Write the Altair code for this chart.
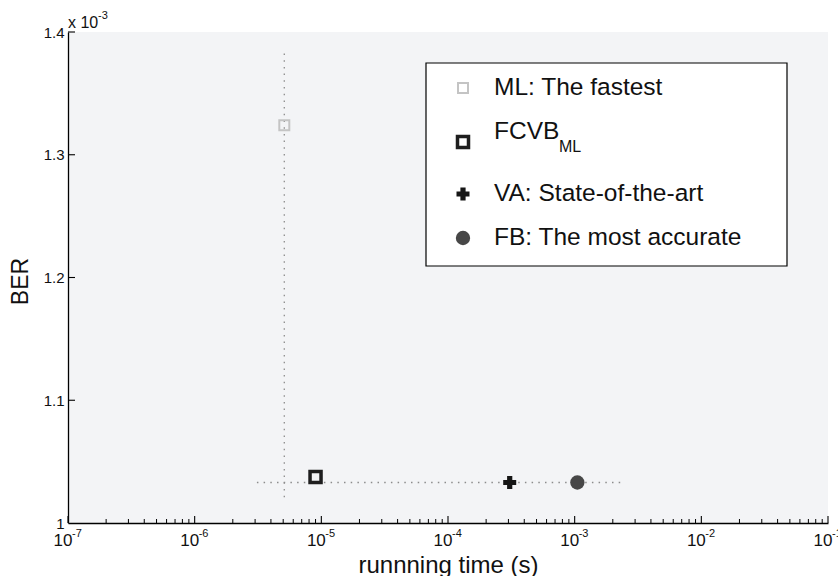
import altair as alt
import pandas as pd

# Running time (s) and bit error rate (in units of 1e-3) of each detector
methods = ["ML", "FCVB", "VA", "FB"]
run_time = [5.1e-6, 9.0e-6, 3.07e-4, 1.05e-3]
ber = [1.324, 1.0375, 1.033, 1.033]

legend_text = ["ML: The fastest", "FCVB", "VA: State-of-the-art", "FB: The most accurate"]
legend_subscript = ["", "ML", "", ""]

# Dotted spread guides
vguide_time = [5.1e-6, 5.1e-6]
vguide_ber = [1.021, 1.383]
hguide_time = [3.1e-6, 2.29e-3]
hguide_ber = [1.033, 1.033]

# Axis ticks
decade_values = [1e-7, 1e-6, 1e-5, 1e-4, 1e-3, 1e-2, 1e-1]
decade_exponents = ["-7", "-6", "-5", "-4", "-3", "-2", "-1"]
minor_multipliers = [2, 3, 4, 5, 6, 7, 8, 9]
ber_ticks = [1.0, 1.1, 1.2, 1.3, 1.4]

W, H = 760, 491
FONT = "Liberation Sans"

points = pd.DataFrame({"method": methods, "t": run_time, "ber": ber})
vguide = pd.DataFrame({"t": vguide_time, "ber": vguide_ber})
hguide = pd.DataFrame({"t": hguide_time, "ber": hguide_ber})
decades = pd.DataFrame({"t": decade_values, "exp": decade_exponents})
minors = pd.DataFrame({"t": [m * d for d in decade_values[:-1] for m in minor_multipliers]})
yticks = pd.DataFrame({"ber": ber_ticks[1:]})

x_axis = alt.Axis(
    labels=False, ticks=False, tickSize=0, grid=False,
    domainColor="black", domainWidth=1.3,
    title="runnning time (s)", titleFont=FONT, titleFontSize=24,
    titleFontWeight="normal", titleColor="#111",
    titleY=42, titleBaseline="middle",
)
y_axis = alt.Axis(
    values=ber_ticks, format="~g", ticks=False, tickSize=0, grid=False,
    labelPadding=4, labelFontSize=15, labelFont=FONT, labelColor="#111",
    domainColor="black", domainWidth=1.3,
    title="BER", titleFont=FONT, titleFontSize=23, titleFontWeight="normal",
    titleColor="#111", titleX=-48, titleY=249, titleAngle=270,
    titleBaseline="middle", titleAlign="center",
)
X = alt.X("t:Q", scale=alt.Scale(type="log", domain=[1e-7, 1e-1], nice=False), axis=x_axis)
Y = alt.Y("ber:Q", scale=alt.Scale(domain=[1.0, 1.4], zero=False, nice=False), axis=y_axis)

styles = {
    "ML": dict(shape="square", size=100, filled=False, color="#c4c4c4", strokeWidth=2),
    "FCVB": dict(shape="square", size=121, filled=False, color="#1e1e1e", strokeWidth=3.5),
    "VA": dict(shape="cross", size=169, filled=True, color="#151515"),
    "FB": dict(shape="circle", size=205, filled=True, color="#474747"),
}

layers = []

# dotted guides
for g in (vguide, hguide):
    layers.append(
        alt.Chart(g).mark_line(color="#8c8c8c", strokeWidth=1.3, strokeDash=[1.5, 5.2])
        .encode(x=X, y=Y)
    )

# inward ticks
layers.append(alt.Chart(decades).mark_rule(color="black", strokeWidth=1.1)
              .encode(x=X, y=alt.value(H), y2=alt.value(H - 7)))
layers.append(alt.Chart(minors).mark_rule(color="black", strokeWidth=1.0)
              .encode(x=X, y=alt.value(H), y2=alt.value(H - 4)))
layers.append(alt.Chart(yticks).mark_rule(color="black", strokeWidth=1.1)
              .encode(y=Y, x=alt.value(0), x2=alt.value(7)))

# decade labels 10^n
layers.append(alt.Chart(decades).mark_text(font=FONT, fontSize=17, color="#111", dx=-5,
                                           align="center", baseline="middle")
              .encode(x=X, y=alt.value(H + 18), text=alt.value("10")))
layers.append(alt.Chart(decades).mark_text(font=FONT, fontSize=11, color="#111", dx=4,
                                           align="left", baseline="middle")
              .encode(x=X, y=alt.value(H + 11), text="exp:N"))

# scale factor on the BER axis
layers.append(alt.Chart(points).transform_filter(alt.datum.method == "ML")
              .mark_text(font=FONT, fontSize=16, color="#111", align="left", baseline="middle")
              .encode(x=alt.value(0), y=alt.value(-9), text=alt.value("x 10")))
layers.append(alt.Chart(points).transform_filter(alt.datum.method == "ML")
              .mark_text(font=FONT, fontSize=11, color="#111", align="left", baseline="middle")
              .encode(x=alt.value(30), y=alt.value(-16), text=alt.value("-3")))

# detector markers
for m in methods:
    layers.append(
        alt.Chart(points).transform_filter(alt.datum.method == m)
        .mark_point(opacity=1, **styles[m]).encode(x=X, y=Y)
    )

# legend box
layers.append(alt.Chart(points).transform_filter(alt.datum.method == "ML")
              .mark_rect(fill="white", stroke="black", strokeWidth=1.2)
              .encode(x=alt.value(358), x2=alt.value(719), y=alt.value(31), y2=alt.value(234)))

symbol_y = [56, 110, 162, 206]
text_y = [56, 100, 162, 206]
for i, m in enumerate(methods):
    one = alt.Chart(points).transform_filter(alt.datum.method == m)
    layers.append(one.mark_point(opacity=1, **styles[m])
                  .encode(x=alt.value(395), y=alt.value(symbol_y[i])))
    layers.append(one.mark_text(font=FONT, fontSize=24.5, color="#111", align="left",
                                baseline="middle")
                  .encode(x=alt.value(426), y=alt.value(text_y[i]),
                          text=alt.value(legend_text[i])))
    if legend_subscript[i]:
        layers.append(one.mark_text(font=FONT, fontSize=16, color="#111", align="left",
                                    baseline="middle")
                      .encode(x=alt.value(491), y=alt.value(text_y[i] + 15),
                              text=alt.value(legend_subscript[i])))

chart = (
    alt.layer(*layers)
    .properties(
        width=W, height=H,
        padding={"left": 68, "top": 32, "right": 10, "bottom": 53},
        autosize=alt.AutoSizeParams(type="none"),
        background="white",
    )
    .configure_view(fill="#f3f4f6", strokeWidth=0)
)

chart.save("out.html", embed_options={"renderer": "svg", "actions": False})
